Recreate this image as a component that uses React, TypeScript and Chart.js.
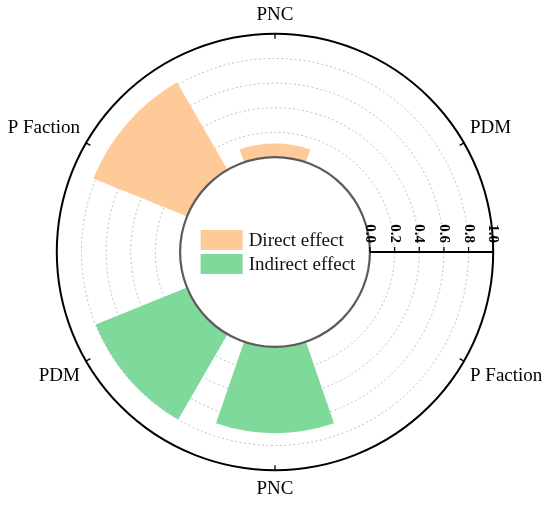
import React, { useEffect, useRef } from 'react';
import { Chart, registerables } from 'chart.js';

Chart.register(...registerables);

// ---- data ----
const categories = ['PNC', 'PDM', 'P Faction', 'PNC', 'PDM', 'P Faction'];
// angular position (theta) of each category's bar centre, degrees clockwise from 12 o'clock
const barTheta = [0, 49, 131, 180, 229, 311];
const barSpan = 38; // angular width of one bar, degrees
const directEffect = [0.11, 0, 0, 0, 0, 0.82];
const indirectEffect = [0, 0, 0, 0.7, 0.8, 0];
const seriesNames = ['Direct effect', 'Indirect effect'];
const seriesColors = ['#FECB98', '#7FD99B'];
const radialTicks = [0, 0.2, 0.4, 0.6, 0.8, 1.0];

// ---- style / layout constants ----
const axisMin = -0.77; // creates the empty hole in the middle
const axisMax = 1.0;
const scaleStart = -30; // with centred point labels, labels land at 0, 60, 120 ...
const serif = "'Liberation Serif', 'Times New Roman', serif";

function buildSegments(values: number[], color: string) {
  const data: number[] = [];
  const angles: number[] = [];
  const colors: string[] = [];
  let cursor = scaleStart;
  const end = scaleStart + 360;
  categories.forEach((_, i) => {
    const from = barTheta[i] - barSpan / 2;
    const gap = from - cursor;
    if (gap > 1e-6) {
      data.push(0);
      angles.push(gap);
      colors.push('rgba(0,0,0,0)');
    }
    data.push(values[i]);
    angles.push(barSpan);
    colors.push(color);
    cursor = from + barSpan;
  });
  if (end - cursor > 1e-6) {
    data.push(0);
    angles.push(end - cursor);
    colors.push('rgba(0,0,0,0)');
  }
  return { data, angles, colors };
}

const decorPlugin = {
  id: 'decor',
  afterDatasetsDraw(chart: any) {
    const ctx = chart.ctx;
    const scale = chart.scales.r;
    const cx = scale.xCenter;
    const cy = scale.yCenter;
    const r0 = scale.getDistanceFromCenterForValue(0);
    const r1 = scale.getDistanceFromCenterForValue(axisMax);
    ctx.save();

    // hollow centre
    ctx.beginPath();
    ctx.arc(cx, cy, r0, 0, Math.PI * 2);
    ctx.fillStyle = '#ffffff';
    ctx.fill();
    ctx.lineWidth = 2.2;
    ctx.strokeStyle = '#5c5c5c';
    ctx.stroke();

    // angular tick marks on the outer circle
    const add = Math.PI / categories.length;
    ctx.strokeStyle = '#000';
    ctx.lineWidth = 1.3;
    categories.forEach((_, i) => {
      const p1 = scale.getPointPosition(i, r1, add);
      const p2 = scale.getPointPosition(i, r1 - 5, add);
      ctx.beginPath();
      ctx.moveTo(p1.x, p1.y);
      ctx.lineTo(p2.x, p2.y);
      ctx.stroke();
    });

    // radial axis along the right horizontal
    ctx.lineWidth = 1.8;
    ctx.beginPath();
    ctx.moveTo(cx + r0, cy);
    ctx.lineTo(cx + r1, cy);
    ctx.stroke();
    ctx.lineWidth = 1.3;
    ctx.fillStyle = '#000';
    ctx.font = `bold 15px ${serif}`;
    radialTicks.forEach((v) => {
      const x = cx + scale.getDistanceFromCenterForValue(v);
      ctx.beginPath();
      ctx.moveTo(x, cy);
      ctx.lineTo(x, cy - 5);
      ctx.stroke();
      ctx.save();
      ctx.translate(x, cy - 9);
      ctx.rotate(Math.PI / 2);
      ctx.textAlign = 'right';
      ctx.textBaseline = 'middle';
      ctx.fillText(v.toFixed(1), 0, 0);
      ctx.restore();
    });

    // legend in the hole
    ctx.font = `19px ${serif}`;
    const sw = 42;
    const sh = 20;
    const rowH = 24;
    const textGap = 6;
    const names = chart.data.datasets.map((d: any) => d.label);
    const maxText = Math.max(...names.map((n: string) => ctx.measureText(n).width));
    const totalW = sw + textGap + maxText;
    const totalH = rowH * names.length - (rowH - sh);
    const left = cx - totalW / 2 + 3;
    const top = cy - totalH / 2;
    names.forEach((n: string, i: number) => {
      const y = top + i * rowH;
      ctx.fillStyle = seriesColors[i];
      ctx.fillRect(left, y, sw, sh);
      ctx.fillStyle = '#111';
      ctx.textAlign = 'left';
      ctx.textBaseline = 'middle';
      ctx.fillText(n, left + sw + textGap, y + sh / 2 + 1);
    });

    ctx.restore();
  },
};

export default function App() {
  const canvasRef = useRef<HTMLCanvasElement | null>(null);

  useEffect(() => {
    const canvas = canvasRef.current;
    if (!canvas) return;
    const segD = buildSegments(directEffect, seriesColors[0]);
    const segI = buildSegments(indirectEffect, seriesColors[1]);

    const chart = new Chart(canvas, {
      type: 'polarArea',
      data: {
        labels: categories,
        datasets: [
          {
            label: seriesNames[0],
            data: segD.data,
            backgroundColor: segD.colors,
            borderWidth: 0,
            angle: (c: any) => segD.angles[c.dataIndex],
          } as any,
          {
            label: seriesNames[1],
            data: segI.data,
            backgroundColor: segI.colors,
            borderWidth: 0,
            angle: (c: any) => segI.angles[c.dataIndex],
          } as any,
        ],
      },
      options: {
        responsive: false,
        animation: false,
        events: [],
        layout: { padding: { top: 4, bottom: 4, left: 0, right: 0 } },
        plugins: {
          legend: { display: false },
          tooltip: { enabled: false },
        },
        scales: {
          r: {
            min: axisMin,
            max: axisMax,
            startAngle: scaleStart,
            ticks: { display: false, stepSize: 0.2 },
            angleLines: { display: false },
            grid: {
              circular: true,
              color: (c: any) => {
                const v = c.tick ? c.tick.value : 0;
                if (v > axisMax - 0.01) return '#000000';
                if (v > 0.01) return '#BDBDBD';
                return 'rgba(0,0,0,0)';
              },
              lineWidth: (c: any) => {
                const v = c.tick ? c.tick.value : 0;
                return v > axisMax - 0.01 ? 2 : 1;
              },
            },
            border: {
              dash: (c: any) => {
                const v = c.tick ? c.tick.value : 0;
                return v > 0.01 && v < axisMax - 0.01 ? [2, 2.5] : [];
              },
            },
            pointLabels: {
              display: true,
              centerPointLabels: true,
              padding: 7,
              color: '#000',
              font: { family: serif, size: 19 },
            },
          } as any,
        },
      },
      plugins: [decorPlugin],
    } as any);

    return () => chart.destroy();
  }, []);

  return (
    <div style={{ position: 'absolute', left: 0, top: 0, width: 550, height: 505, background: '#fff' }}>
      <canvas ref={canvasRef} width={550} height={505} />
    </div>
  );
}
